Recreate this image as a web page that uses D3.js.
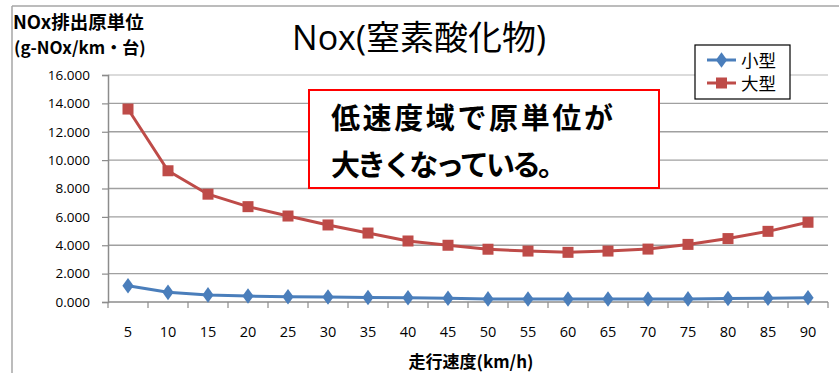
<!DOCTYPE html>
<html>
<head>
<meta charset="utf-8">
<script src="https://cdn.jsdelivr.net/npm/d3@7/dist/d3.min.js"></script>
<style>
  html, body { margin: 0; padding: 0; background: #fff; }
  svg { display: block; font-family: "Open Sans", "Noto Sans CJK JP", sans-serif; }
</style>
</head>
<body>
<svg id="chart" width="839" height="373"></svg>
<script>
// Speeds (km/h) on the category axis
const speeds = [5, 10, 15, 20, 25, 30, 35, 40, 45, 50, 55, 60, 65, 70, 75, 80, 85, 90];
// NOx emission factor (g-NOx/km・台)
const smallVehicle = [1.15, 0.68, 0.50, 0.42, 0.37, 0.35, 0.32, 0.30, 0.27, 0.22, 0.21, 0.21, 0.21, 0.21, 0.22, 0.25, 0.27, 0.30];
const largeVehicle = [13.60, 9.25, 7.60, 6.72, 6.06, 5.43, 4.86, 4.30, 4.00, 3.72, 3.59, 3.50, 3.59, 3.73, 4.06, 4.47, 4.98, 5.62];
const yTicks = [0, 2, 4, 6, 8, 10, 12, 14, 16];
const seriesNames = ["小型", "大型"];

const blue = "#4a7ebb";
const red = "#be4b48";

const svg = d3.select("#chart");

// frame lines (top and left)
svg.append("line").attr("x1", 12).attr("y1", 6).attr("x2", 839).attr("y2", 6)
  .attr("stroke", "#a6a6a6").attr("stroke-width", 1.5);
svg.append("line").attr("x1", 12).attr("y1", 6).attr("x2", 12).attr("y2", 373)
  .attr("stroke", "#a6a6a6").attr("stroke-width", 1.5);

const plot = { left: 108, right: 828, top: 75, bottom: 302 };

const x = d3.scaleBand().domain(speeds).range([plot.left, plot.right]).paddingInner(0).paddingOuter(0);
const y = d3.scaleLinear().domain([0, 16]).range([plot.bottom, plot.top]);

// horizontal gridlines
svg.append("g").selectAll("line").data(yTicks.filter(d => d > 0)).join("line")
  .attr("x1", plot.left).attr("x2", plot.right)
  .attr("y1", d => y(d)).attr("y2", d => y(d))
  .attr("stroke", d => d === 16 ? "#cfcfcf" : "#a0a0a0").attr("stroke-width", 1.3);

// y axis
const yAxis = d3.axisLeft(y).tickValues(yTicks).tickFormat(d3.format(".3f")).tickSize(6).tickPadding(12);
const gy = svg.append("g").attr("transform", `translate(${plot.left},0)`).call(yAxis);
gy.select(".domain").attr("stroke", "#8c8c8c").attr("stroke-width", 1.5);
gy.selectAll(".tick line").attr("stroke", "#8c8c8c").attr("stroke-width", 1.2);
gy.selectAll("text").attr("font-size", 13.5).attr("fill", "#000")
  .attr("font-family", "'Open Sans', sans-serif");

// x axis: ticks at category boundaries
const gx = svg.append("g").attr("transform", `translate(0,${plot.bottom})`);
gx.append("line").attr("x1", plot.left).attr("x2", plot.right).attr("y1", 0).attr("y2", 0)
  .attr("stroke", "#8c8c8c").attr("stroke-width", 1.5);
const boundaries = speeds.map(s => x(s)).concat([x(speeds[speeds.length - 1]) + x.bandwidth()]);
gx.selectAll("line.tk").data(boundaries).join("line").attr("class", "tk")
  .attr("x1", d => d).attr("x2", d => d).attr("y1", 0).attr("y2", 6)
  .attr("stroke", "#8c8c8c").attr("stroke-width", 1.2);
gx.selectAll("text").data(speeds).join("text")
  .attr("x", d => x(d) + x.bandwidth() / 2).attr("y", 35)
  .attr("text-anchor", "middle").attr("font-size", 14.5).attr("fill", "#000")
  .attr("font-family", "'Open Sans', sans-serif")
  .text(d => d);

const cx = d => x(d) + x.bandwidth() / 2;

// series lines
const line = d3.line().x((d, i) => cx(speeds[i])).y(d => y(d));
svg.append("path").datum(largeVehicle).attr("d", line)
  .attr("fill", "none").attr("stroke", red).attr("stroke-width", 3).attr("stroke-linejoin", "round");
svg.append("path").datum(smallVehicle).attr("d", line)
  .attr("fill", "none").attr("stroke", blue).attr("stroke-width", 3).attr("stroke-linejoin", "round");

// markers
svg.append("g").selectAll("rect").data(largeVehicle).join("rect")
  .attr("x", (d, i) => cx(speeds[i]) - 5.5).attr("y", d => y(d) - 5.5)
  .attr("width", 11).attr("height", 11).attr("fill", red);
const diamond = d3.symbol().type(d3.symbolDiamond).size(70);
svg.append("g").selectAll("path").data(smallVehicle).join("path")
  .attr("transform", (d, i) => `translate(${cx(speeds[i])},${y(d)}) scale(1.25,1)`)
  .attr("d", diamond).attr("fill", blue);

// chart title
svg.append("text").attr("x", 419).attr("y", 50).attr("text-anchor", "middle")
  .attr("font-size", 34).attr("fill", "#000")
  .attr("font-family", "'Open Sans', 'Noto Sans CJK JP', sans-serif")
  .text("Nox(窒素酸化物)");

// y axis title (two lines)
const yt = svg.append("text").attr("font-weight", "bold").attr("fill", "#000")
  .attr("font-family", "'Noto Sans CJK JP', sans-serif");
yt.append("tspan").attr("x", 13).attr("y", 29).attr("font-size", 18.5).text("NOx排出原単位");
yt.append("tspan").attr("x", 14).attr("y", 54).attr("font-size", 17).text("(g-NOx/km・台)");

// x axis title
svg.append("text").attr("x", 471).attr("y", 368).attr("text-anchor", "middle")
  .attr("font-size", 17).attr("font-weight", "bold").attr("fill", "#000")
  .attr("font-family", "'Noto Sans CJK JP', sans-serif")
  .text("走行速度(km/h)");

// legend
const lg = svg.append("g");
lg.append("rect").attr("x", 695).attr("y", 45).attr("width", 95).attr("height", 54)
  .attr("fill", "#fff").attr("stroke", "#000").attr("stroke-width", 1.2);
const legendColors = [blue, red];
seriesNames.forEach((name, i) => {
  const ly = 60 + i * 23;
  lg.append("line").attr("x1", 707).attr("x2", 736).attr("y1", ly).attr("y2", ly)
    .attr("stroke", legendColors[i]).attr("stroke-width", 3);
  if (i === 0) {
    lg.append("path").attr("transform", `translate(721.5,${ly}) scale(1.25,1)`)
      .attr("d", diamond).attr("fill", blue);
  } else {
    lg.append("rect").attr("x", 716).attr("y", ly - 5.5).attr("width", 11).attr("height", 11).attr("fill", red);
  }
  lg.append("text").attr("x", 741).attr("y", ly + 6.5).attr("font-size", 17.5).attr("fill", "#000")
    .attr("font-family", "'Noto Sans CJK JP', sans-serif").text(name);
});

// annotation box
svg.append("rect").attr("x", 309).attr("y", 90).attr("width", 350).attr("height", 98)
  .attr("fill", "#fff").attr("stroke", "#ff0000").attr("stroke-width", 2);
const note = svg.append("text").attr("font-size", 29).attr("font-weight", "bold").attr("fill", "#000")
  .attr("font-family", "'Noto Sans CJK JP', sans-serif");
note.append("tspan").attr("x", 331).attr("y", 129).attr("textLength", 282).attr("lengthAdjust", "spacing")
  .text("低速度域で原単位が");
note.append("tspan").attr("x", 331).attr("y", 176).attr("textLength", 236).attr("lengthAdjust", "spacing")
  .text("大きくなっている。");
</script>
</body>
</html>
